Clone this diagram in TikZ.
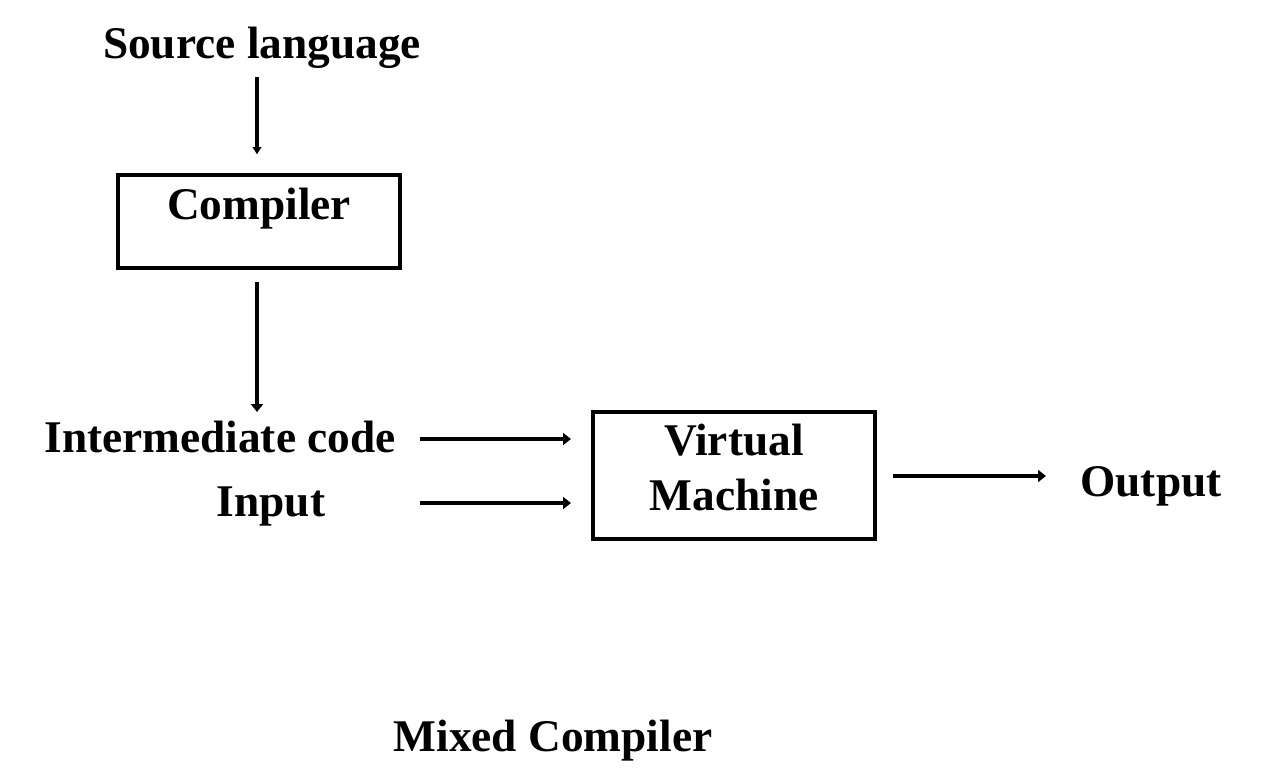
\documentclass[tikz,border=0pt]{standalone}
\usepackage{fontspec}
\setmainfont{Liberation Serif}
\usetikzlibrary{arrows.meta}
\begin{document}
\begin{tikzpicture}[x=0.75pt,y=-0.75pt,
  lbl/.style={inner sep=0pt,anchor=base,font=\fontsize{34}{40}\selectfont\bfseries},
  box/.style={draw,line width=3pt,inner sep=0pt,minimum width=211.5pt},
  arr/.style={line width=3pt,-{Triangle[length=6pt,width=9pt]}}]
\useasboundingbox[fill=white] (0,0) rectangle (1273,771);
\node[lbl] (src) at (262,58) {Source language};
\node[box,font=\fontsize{34}{40}\selectfont\bfseries,anchor=base,text height=24pt,text depth=27.75pt,minimum height=69.75pt] (comp) at (259,219) {Compiler};
\node[lbl] (ic) at (220,452) {Intermediate code};
\node[lbl] (inp) at (271,516) {Input};
\node[box,minimum height=95.25pt] (vm) at (734,475.5) {};
\node[lbl] (vm1) at (734,455) {Virtual};
\node[lbl] (vm2) at (734,510) {Machine};
\node[lbl] (out) at (1151,496) {Output};
\node[lbl] (title) at (553,751) {Mixed Compiler};
\coordinate (icend) at (vm.west |- 0,439);
\coordinate (inend) at (vm.west |- 0,503);
\coordinate (outend) at (1046,476);
\draw[line width=2.8pt,-{Triangle[length=5.5pt,width=6.5pt]}] (257,77) -- ([xshift=-1.5pt,yshift=14pt]comp.north);
\draw[arr] ([xshift=-1.5pt,yshift=-9pt]comp.south) -- (257,412);
\draw[arr] (420,439) -- ([xshift=-15pt]icend);
\draw[arr] (420,503) -- ([xshift=-15pt]inend);
\draw[arr] (vm.east |- outend) ++(16,0) -- (outend);
\end{tikzpicture}
\end{document}
